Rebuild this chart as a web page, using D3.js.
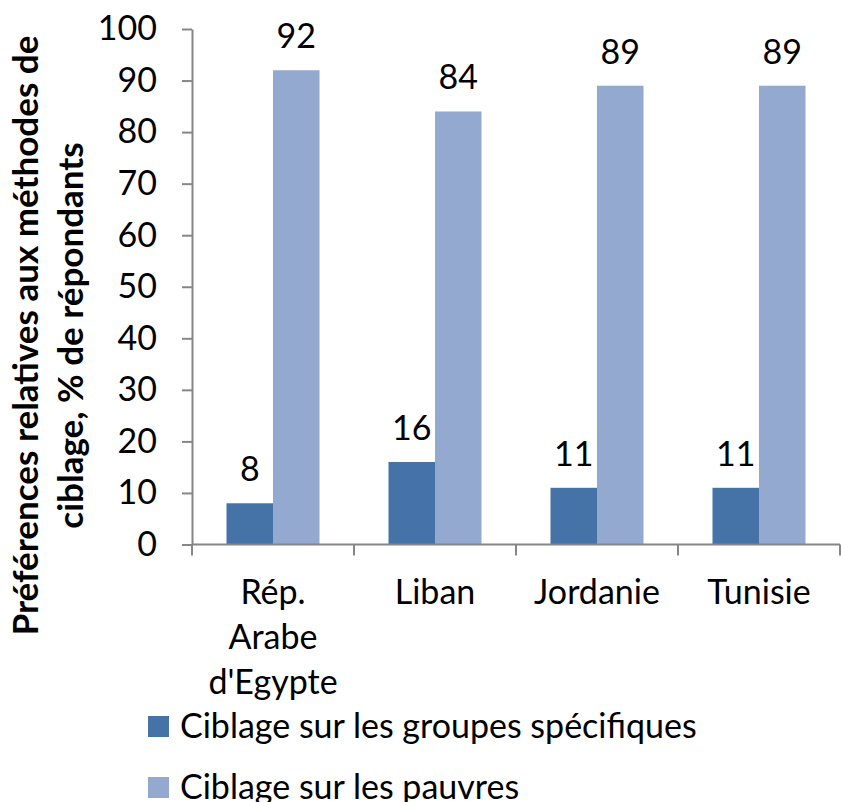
<!DOCTYPE html>
<html>
<head>
<meta charset="utf-8">
<script src="https://cdn.jsdelivr.net/npm/d3@7"></script>
<style>
  body { margin: 0; background: #fff; }
  svg { font-family: Lato, "Open Sans", sans-serif; }
</style>
</head>
<body>
<div class="container"></div>
<script>
var categories = ["Rép. Arabe d'Egypte", "Liban", "Jordanie", "Tunisie"];
var categoryLines = [["Rép.", "Arabe", "d'Egypte"], ["Liban"], ["Jordanie"], ["Tunisie"]];
var seriesNames = ["Ciblage sur les groupes spécifiques", "Ciblage sur les pauvres"];
var specifiques = [8, 16, 11, 11];
var pauvres = [92, 84, 89, 89];
var yTicks = [0, 10, 20, 30, 40, 50, 60, 70, 80, 90, 100];
var titleLines = ["Préférences relatives aux méthodes de", "ciblage, % de répondants"];
var colors = ["#4572a7", "#93a9cf"];

var width = 841, height = 802;
var fs = 34;
var svg = d3.select('.container').append('svg')
    .attr("width", width).attr("height", height);

var x = d3.scaleBand().domain(categories).range([192, 840]);
var x1 = d3.scaleBand().domain(seriesNames).range([0, x.bandwidth()]).paddingOuter(0.742);
var y = d3.scaleLinear().domain([0, 100]).range([544.5, 29]);

var values = [specifiques, pauvres];

// bars
seriesNames.forEach(function(s, si){
    svg.append("g").selectAll("rect")
       .data(categories)
       .enter().append("rect")
       .attr("x", function(d) { return x(d) + x1(s); })
       .attr("y", function(d, i) { return y(values[si][i]); })
       .attr("width", x1.bandwidth())
       .attr("height", function(d, i) { return y(0) - y(values[si][i]); })
       .attr("fill", colors[si]);

    svg.append("g").selectAll("text")
       .data(categories)
       .enter().append("text")
       .attr("x", function(d) { return x(d) + x1(s) + x1.bandwidth() / 2; })
       .attr("y", function(d, i) { return y(values[si][i]) - 22; })
       .attr("text-anchor", "middle")
       .attr("font-size", fs)
       .attr("fill", "#000")
       .text(function(d, i) { return values[si][i]; });
});

// y axis
var yAxis = svg.append("g")
    .attr("transform", "translate(192,0)")
    .call(d3.axisLeft(y).tickValues(yTicks).tickSize(10).tickPadding(25).tickSizeOuter(0));
yAxis.select(".domain").attr("stroke", "#868686").attr("stroke-width", 2);
yAxis.selectAll(".tick line").attr("stroke", "#868686").attr("stroke-width", 2);
yAxis.selectAll(".tick text").attr("font-size", fs).attr("font-family", "Lato, 'Open Sans', sans-serif").attr("fill", "#000");

// x axis
var edges = categories.map(function(d) { return x(d); }).concat([x.range()[1]]);
svg.append("line")
   .attr("x1", x.range()[0]).attr("x2", x.range()[1])
   .attr("y1", y(0)).attr("y2", y(0))
   .attr("stroke", "#868686").attr("stroke-width", 2);
svg.append("g").selectAll("line")
   .data(edges)
   .enter().append("line")
   .attr("x1", function(d) { return d; }).attr("x2", function(d) { return d; })
   .attr("y1", y(0)).attr("y2", y(0) + 11)
   .attr("stroke", "#868686").attr("stroke-width", 2);

var catText = svg.append("g").selectAll("text")
   .data(categories)
   .enter().append("text")
   .attr("text-anchor", "middle")
   .attr("font-size", fs)
   .attr("fill", "#000");
catText.each(function(d, i){
    var t = d3.select(this);
    categoryLines[i].forEach(function(line, li){
        t.append("tspan")
         .attr("x", x(d) + x.bandwidth() / 2)
         .attr("y", 604 + li * 45)
         .text(line);
    });
});

// y title
var title = svg.append("text")
   .attr("transform", "translate(0,335.5) rotate(-90)")
   .attr("text-anchor", "middle")
   .attr("font-size", 35)
   .attr("font-weight", "bold")
   .attr("fill", "#000");
titleLines.forEach(function(line, li){
    title.append("tspan").attr("x", 0).attr("y", 38 + li * 45).text(line);
});

// legend
var legend = svg.append("g").selectAll("g")
   .data(seriesNames)
   .enter().append("g")
   .attr("transform", function(d, i) { return "translate(148," + (716 + i * 61) + ")"; });
legend.append("rect")
   .attr("width", 21).attr("height", 21)
   .attr("fill", function(d, i) { return colors[i]; });
legend.append("text")
   .attr("x", 32).attr("y", 22)
   .attr("font-size", fs)
   .attr("fill", "#000")
   .text(function(d) { return d; });
</script>
</body>
</html>
